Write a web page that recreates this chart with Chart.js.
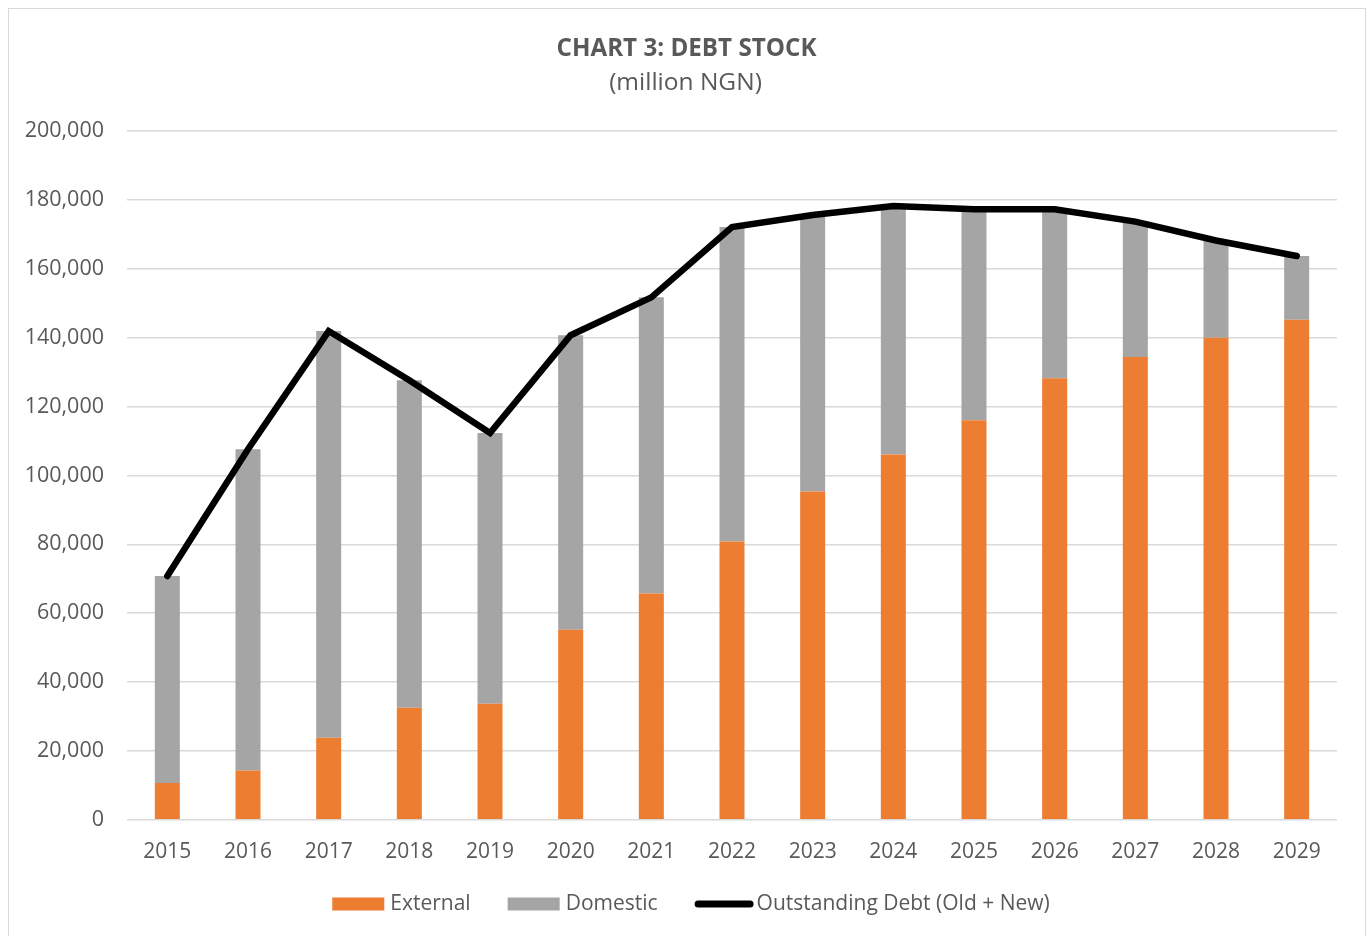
<!DOCTYPE html>
<html>
<head>
<meta charset="utf-8">
<title>Debt Stock</title>
<script src="https://cdn.jsdelivr.net/npm/chart.js@4"></script>
<style>
  html, body { margin: 0; padding: 0; background: #fff; }
  canvas { display: block; }
</style>
</head>
<body>
<canvas id="debtChart" width="1370" height="936"></canvas>
<script>
const YEARS = ['2015', '2016', '2017', '2018', '2019', '2020', '2021', '2022',
  '2023', '2024', '2025', '2026', '2027', '2028', '2029'];
const EXTERNAL = [10700, 14300, 23800, 32500, 33700, 55200, 65700, 80800,
  95300, 106100, 116000, 128200, 134400, 140000, 145200];
const DOMESTIC = [60100, 93300, 118100, 95100, 78600, 85500, 86000, 91300,
  80300, 72100, 61300, 49100, 39300, 28200, 18500];
const OUTSTANDING = [70800, 107600, 141900, 127600, 112300, 140700, 151700, 172100,
  175600, 178200, 177300, 177300, 173700, 168200, 163700];
const Y_MIN = 0, Y_MAX = 200000, Y_STEP = 20000;

const TITLE = 'CHART 3: DEBT STOCK';
const SUBTITLE = '(million NGN)';

const FONT = "'Open Sans', sans-serif";
const TEXT = '#595959';
const GRID = '#d9d9d9';
const ORANGE = '#ed7d31';
const GREY = '#a5a5a5';

// white background, thin frame, and the two title lines
const framePlugin = {
  id: 'frame',
  beforeDraw(chart) {
    const c = chart.ctx;
    c.save();
    c.fillStyle = '#fff';
    c.fillRect(0, 0, chart.width, chart.height);
    c.strokeStyle = GRID;
    c.lineWidth = 1;
    c.strokeRect(8.5, 8.5, chart.width - 13, chart.height + 20);

    const cx = (8 + chart.width - 5) / 2;
    c.fillStyle = TEXT;
    c.textAlign = 'center';
    c.textBaseline = 'alphabetic';
    c.font = 'bold 24.2px ' + FONT;
    c.fillText(TITLE, cx, 56);
    c.font = '24.5px ' + FONT;
    c.fillText(SUBTITLE, cx - 1, 90);
    c.restore();
  }
};

// legend row under the axis: two swatches and a thick line sample
const legendRow = {
  id: 'legendRow',
  afterDraw(chart) {
    const c = chart.ctx;
    const items = [
      { label: 'External', kind: 'box', color: ORANGE },
      { label: 'Domestic', kind: 'box', color: GREY },
      { label: 'Outstanding Debt (Old + New)', kind: 'line', color: '#000' }
    ];
    c.save();
    c.font = '21px ' + FONT;
    const swatchW = 52, lineW = 59, itemGap = 37;
    let total = 0;
    items.forEach((it, i) => {
      it.sw = it.kind === 'box' ? swatchW : lineW;
      it.tg = it.kind === 'box' ? 6 : 3;
      it.tw = c.measureText(it.label).width;
      total += it.sw + it.tg + it.tw + (i < items.length - 1 ? itemGap : 0);
    });
    let x = 691 - total / 2;
    const y = 904;
    c.textBaseline = 'middle';
    c.textAlign = 'left';
    items.forEach(it => {
      if (it.kind === 'box') {
        c.fillStyle = it.color;
        c.fillRect(x, y - 6.5, it.sw, 13);
      } else {
        c.strokeStyle = it.color;
        c.lineWidth = 7;
        c.lineCap = 'round';
        c.beginPath();
        c.moveTo(x + 3.5, y);
        c.lineTo(x + it.sw - 3.5, y);
        c.stroke();
      }
      c.fillStyle = TEXT;
      c.fillText(it.label, x + it.sw + it.tg, y);
      x += it.sw + it.tg + it.tw + itemGap;
    });
    c.restore();
  }
};

new Chart(document.getElementById('debtChart'), {
  data: {
    labels: YEARS,
    datasets: [
      {
        type: 'line',
        label: 'Outstanding Debt (Old + New)',
        data: OUTSTANDING,
        stack: 'total',
        borderColor: '#000',
        borderWidth: 6.5,
        borderCapStyle: 'round',
        pointRadius: 0,
        tension: 0,
        fill: false
      },
      {
        type: 'bar',
        label: 'External',
        data: EXTERNAL,
        stack: 'debt',
        backgroundColor: ORANGE,
        barPercentage: 0.31,
        categoryPercentage: 1
      },
      {
        type: 'bar',
        label: 'Domestic',
        data: DOMESTIC,
        stack: 'debt',
        backgroundColor: GREY,
        barPercentage: 0.31,
        categoryPercentage: 1
      }
    ]
  },
  options: {
    responsive: false,
    animation: false,
    layout: { padding: { left: 0, right: 33, top: 131, bottom: 59 } },
    plugins: {
      legend: { display: false },
      tooltip: { enabled: false },
      title: { display: false }
    },
    scales: {
      x: {
        stacked: true,
        grid: { display: false },
        border: { display: false },
        ticks: { color: TEXT, font: { family: FONT, size: 21 }, padding: 12, maxRotation: 0 }
      },
      y: {
        stacked: true,
        min: Y_MIN,
        max: Y_MAX,
        afterFit(scale) { scale.width = 127; },
        grid: { color: GRID, lineWidth: 1.5, drawTicks: false },
        border: { display: false },
        ticks: {
          stepSize: Y_STEP,
          color: TEXT,
          padding: 23,
          font: { family: FONT, size: 21.5 },
          callback: v => v.toLocaleString('en-US')
        }
      }
    }
  },
  plugins: [framePlugin, legendRow]
});
</script>
</body>
</html>
